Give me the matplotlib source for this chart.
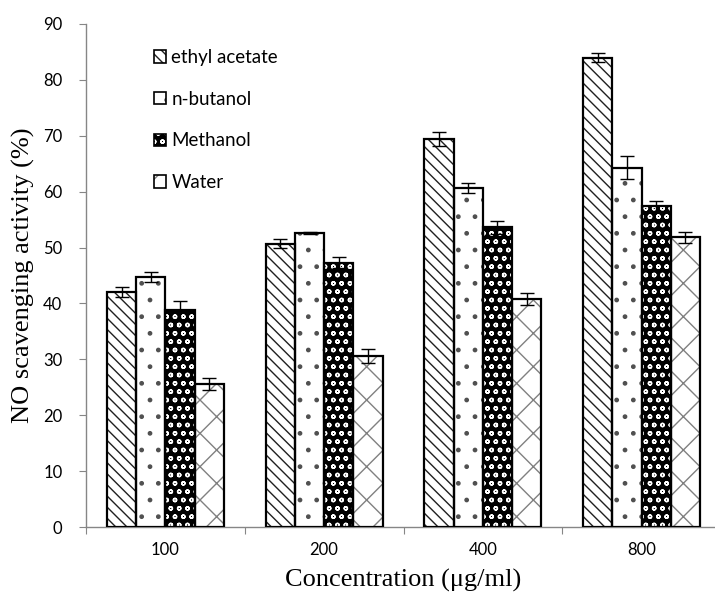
import matplotlib
# 无界面后端
matplotlib.use("Agg")
import numpy as np
import matplotlib.pyplot as plt
from matplotlib.patches import Patch

plt.rcParams["hatch.linewidth"] = 1.0

# 数据
concentrations = ["100", "200", "400", "800"]
solvents = ["ethyl acetate", "n-butanol", "Methanol", "Water"]
ethyl_acetate = [42.1, 50.7, 69.4, 84.0]
n_butanol = [44.8, 52.6, 60.6, 64.3]
methanol = [38.8, 47.3, 53.6, 57.4]
water = [25.6, 30.6, 40.8, 51.8]
ethyl_acetate_err = [0.9, 0.8, 1.2, 0.8]
n_butanol_err = [0.9, 0.2, 0.9, 2.0]
methanol_err = [1.7, 1.0, 1.2, 0.9]
water_err = [1.0, 1.2, 1.1, 1.0]

values = [ethyl_acetate, n_butanol, methanol, water]
errors = [ethyl_acetate_err, n_butanol_err, methanol_err, water_err]
# 每个系列的填充样式: (底色, 花纹颜色, 花纹)
styles = [
    ("white", "#202020", "\\\\\\"),
    ("white", "#505050", "."),
    ("black", "white", "oo"),
    ("white", "#808080", "x"),
]

fig = plt.figure(figsize=(7.15, 6.03), dpi=100)
ax = fig.add_axes([86 / 715, 76 / 603, 635 / 715, 503 / 603])

x = np.arange(len(concentrations))
width = 0.184
handles = []
for i, (vals, errs, (fc, hc, hatch)) in enumerate(zip(values, errors, styles)):
    pos = x + (i - 1.5) * width
    # 花纹层
    ax.bar(pos, vals, width, color=fc, edgecolor=hc, hatch=hatch, linewidth=0, zorder=2)
    # 黑色边框 + 误差线
    ax.bar(pos, vals, width, fill=False, edgecolor="black", linewidth=1.6, zorder=3,
           yerr=errs, error_kw=dict(ecolor="black", elinewidth=1.0, capsize=5, capthick=1.0))
    handles.append((Patch(facecolor=fc, edgecolor=hc, hatch=hatch, linewidth=0),
                    Patch(fill=False, edgecolor="black", linewidth=1.2)))

ax.set_xlim(-0.5, 3.5)
ax.set_ylim(0, 90)
ax.set_yticks(np.arange(0, 91, 10))
ax.set_xticks(np.arange(-0.5, 4, 1))
ax.set_xticklabels([])
ax.set_xticks(x, minor=True)
ax.set_xticklabels(concentrations, minor=True, fontfamily="Lato", fontsize=12)
ax.tick_params(axis="x", which="minor", length=0, pad=11)
ax.tick_params(axis="x", which="major", length=5, color="#868686", direction="out")
ax.tick_params(axis="y", length=5, color="#868686", pad=12, labelsize=12)
for lab in ax.get_yticklabels():
    lab.set_fontfamily("Lato")

for s in ["top", "right"]:
    ax.spines[s].set_visible(False)
for s in ["left", "bottom"]:
    ax.spines[s].set_color("#868686")
    ax.spines[s].set_linewidth(1.0)

ax.set_xlabel("Concentration (μg/ml)", fontfamily="Liberation Serif", fontsize=19, labelpad=8)
ax.set_ylabel("NO scavenging activity (%)", fontfamily="Liberation Serif", fontsize=19, labelpad=6)

ax.legend(handles, solvents, loc="upper left", bbox_to_anchor=(0.08, 0.984), frameon=False,
          prop={"family": "Lato", "size": 13.5}, handlelength=0.65, handleheight=0.65,
          handletextpad=0.3, labelspacing=1.32)

plt.savefig("out.png", dpi=100)
plt.close("all")
